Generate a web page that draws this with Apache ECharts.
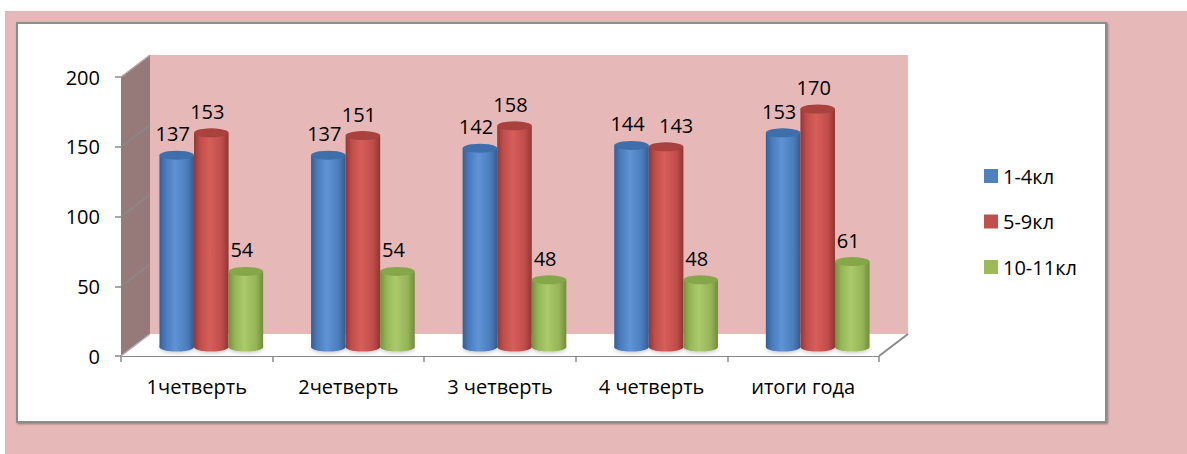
<!DOCTYPE html>
<html>
<head>
<meta charset="utf-8">
<script src="https://cdn.jsdelivr.net/npm/echarts@6/dist/echarts.min.js"></script>
<style>
  html, body { margin:0; padding:0; background:#ffffff; }
  #outer { position:absolute; left:5px; top:11px; width:1182px; height:443px; background:#e6b8b7; }
  #panel { position:absolute; left:16px; top:22px; width:1087px; height:397px; background:#ffffff;
           border:2px solid #8c8c8c; box-shadow:1px 1px 2px rgba(0,0,0,0.35); }
  #chart { position:absolute; left:0; top:0; width:1187px; height:454px; }
</style>
</head>
<body>
<div id="outer"></div>
<div id="panel"></div>
<div id="chart"></div>
<script>
const categories = ['1четверть', '2четверть', '3 четверть', '4 четверть', 'итоги года'];
const seriesNames = ['1-4кл', '5-9кл', '10-11кл'];
const values_1_4 = [137, 137, 142, 144, 153];
const values_5_9 = [153, 151, 158, 143, 170];
const values_10_11 = [54, 54, 48, 48, 61];
const yTicks = [0, 50, 100, 150, 200];

const FONT = '"Open Sans", "DejaVu Sans", sans-serif';
const DX = 29, DY = -22;          // depth offset of the 3D box (style)
const GRID_LINE = '#8a8a8a';

const palettes = [
  { base:'#4f81bd', top:'#3f6fab', stops:['#345f98','#4a7cbc','#5e93d5','#4b7dbb','#325c94'] },
  { base:'#c0504d', top:'#a9413e', stops:['#933735','#c04e4b','#d75e5a','#bf4d4a','#8f3533'] },
  { base:'#9bbb59', top:'#86a64a', stops:['#74903d','#95b657','#abca6c','#94b456','#718c3b'] }
];

function grad(stops) {
  return new echarts.graphic.LinearGradient(0, 0, 1, 0, [
    { offset:0, color:stops[0] }, { offset:0.18, color:stops[1] },
    { offset:0.45, color:stops[2] }, { offset:0.8, color:stops[3] }, { offset:1, color:stops[4] }
  ]);
}

function cylinder(idx) {
  const pal = palettes[idx];
  return function (params, api) {
    const cat = api.value(0), v = api.value(1);
    const base = api.coord([cat, 0]);
    const top = api.coord([cat, v]);
    const band = api.size([1, 0])[0];
    const w = band * 0.228;
    const cx = base[0] + (idx - 1) * w;
    const rx = w / 2, ry = w * 0.13;
    // shift the red label right when it would collide with the blue one
    let lx = cx - 4;
    if (idx === 1) {
      const blueTop = api.coord([cat, values_1_4[cat]])[1];
      if (Math.abs(blueTop - top[1]) < 18) lx = cx + 10;
    }
    return {
      type:'group',
      children:[
        { type:'circle', x:cx, y:base[1], scaleY:ry / rx, shape:{ cx:0, cy:0, r:rx },
          style:{ fill:grad(pal.stops), shadowBlur:4, shadowColor:'rgba(0,0,0,0.25)', shadowOffsetY:1 } },
        { type:'rect', shape:{ x:cx - rx, y:top[1], width:w, height:base[1] - top[1] },
          style:{ fill:grad(pal.stops) } },
        { type:'circle', x:cx, y:top[1], scaleY:ry / rx, shape:{ cx:0, cy:0, r:rx },
          style:{ fill:pal.top } },
        { type:'text', x:lx, y:top[1] - ry - 7,
          style:{ text:String(v), font:'20px ' + FONT, fill:'#000', align:'center', verticalAlign:'bottom' } }
      ]
    };
  };
}

function box(params, api) {
  const cs = params.coordSys;
  const x0 = cs.x, x1 = cs.x + cs.width;
  const yb = api.coord([0, yTicks[0]])[1];
  const yt = api.coord([0, yTicks[yTicks.length - 1]])[1];
  const children = [];
  children.push({ type:'polygon', shape:{ points:[[x0, yb], [x0, yt], [x0 + DX, yt + DY], [x0 + DX, yb + DY]] },
    style:{ fill:'#967a79' } });
  children.push({ type:'polygon', shape:{ points:[[x0, yb], [x0 + DX, yb + DY], [x1 + DX, yb + DY], [x1, yb]] },
    style:{ fill:'#ffffff' } });
  yTicks.forEach(function (t, i) {
    if (i === 0) return;
    const y = api.coord([0, t])[1];
    children.push({ type:'line', shape:{ x1:x0, y1:y, x2:x0 + DX, y2:y + DY },
      style:{ stroke: i === yTicks.length - 1 ? '#b9a3a3' : GRID_LINE, lineWidth:1.5 } });
  });
  children.push({ type:'line', shape:{ x1:x1, y1:yb, x2:x1 + DX, y2:yb + DY },
    style:{ stroke:GRID_LINE, lineWidth:2 } });
  children.push({ type:'line', shape:{ x1:x0, y1:yb, x2:x0 + DX, y2:yb + DY },
    style:{ stroke:'#b0b0b0', lineWidth:1.5 } });
  return { type:'group', children:children };
}

const chart = echarts.init(document.getElementById('chart'), null, { renderer:'svg', width:1187, height:454 });

const hiddenCat = { type:'category', data:categories, show:false };
const hiddenVal = { type:'value', min:0, max:200, interval:50, show:false };

const option = {
  backgroundColor:'transparent',
  animation:false,
  textStyle:{ fontFamily:FONT },
  grid:[
    { left:150, top:55, width:758, height:279, show:true, backgroundColor:'#e6b9b8', borderWidth:0 },
    { left:135.5, top:67, width:758, height:280 },
    { left:121, top:77, width:758, height:279 }
  ],
  xAxis:[
    Object.assign({ gridIndex:0 }, hiddenCat),
    Object.assign({ gridIndex:1 }, hiddenCat),
    { gridIndex:2, type:'category', data:categories, boundaryGap:true,
      axisLine:{ show:true, lineStyle:{ color:GRID_LINE, width:2 } },
      axisTick:{ show:true, length:6, lineStyle:{ color:GRID_LINE, width:1.5 } },
      axisLabel:{ color:'#000', fontSize:20, fontFamily:FONT, margin:20 },
      splitLine:{ show:false } }
  ],
  yAxis:[
    { gridIndex:0, type:'value', min:0, max:200, interval:50,
      axisLine:{ show:false }, axisTick:{ show:false }, axisLabel:{ show:false },
      splitLine:{ show:true, lineStyle:{ color:GRID_LINE, width:2, shadowBlur:3, shadowColor:'rgba(0,0,0,0.25)', shadowOffsetY:1 } } },
    Object.assign({ gridIndex:1 }, hiddenVal),
    { gridIndex:2, type:'value', min:0, max:200, interval:50,
      axisLine:{ show:false },
      axisTick:{ show:true, length:6, lineStyle:{ color:GRID_LINE, width:1.5 } },
      axisLabel:{ color:'#000', fontSize:20, fontFamily:FONT, margin:21 },
      splitLine:{ show:false } }
  ],
  legend:{
    orient:'vertical', left:979, top:161, itemWidth:14, itemHeight:14, itemGap:25.5,
    icon:'rect',
    textStyle:{ fontSize:20, fontFamily:FONT, color:'#000', lineHeight:20 },
    data:seriesNames
  },
  series:[
    { type:'custom', name:'box', xAxisIndex:2, yAxisIndex:2, z:1, silent:true,
      renderItem:box, data:[[0, 0]] },
    { type:'custom', name:seriesNames[0], xAxisIndex:1, yAxisIndex:1, z:3,
      itemStyle:{ color:palettes[0].base }, renderItem:cylinder(0),
      data:values_1_4.map(function (v, i) { return [i, v]; }) },
    { type:'custom', name:seriesNames[1], xAxisIndex:1, yAxisIndex:1, z:3,
      itemStyle:{ color:palettes[1].base }, renderItem:cylinder(1),
      data:values_5_9.map(function (v, i) { return [i, v]; }) },
    { type:'custom', name:seriesNames[2], xAxisIndex:1, yAxisIndex:1, z:3,
      itemStyle:{ color:palettes[2].base }, renderItem:cylinder(2),
      data:values_10_11.map(function (v, i) { return [i, v]; }) }
  ]
};
chart.setOption(option);
</script>
</body>
</html>
